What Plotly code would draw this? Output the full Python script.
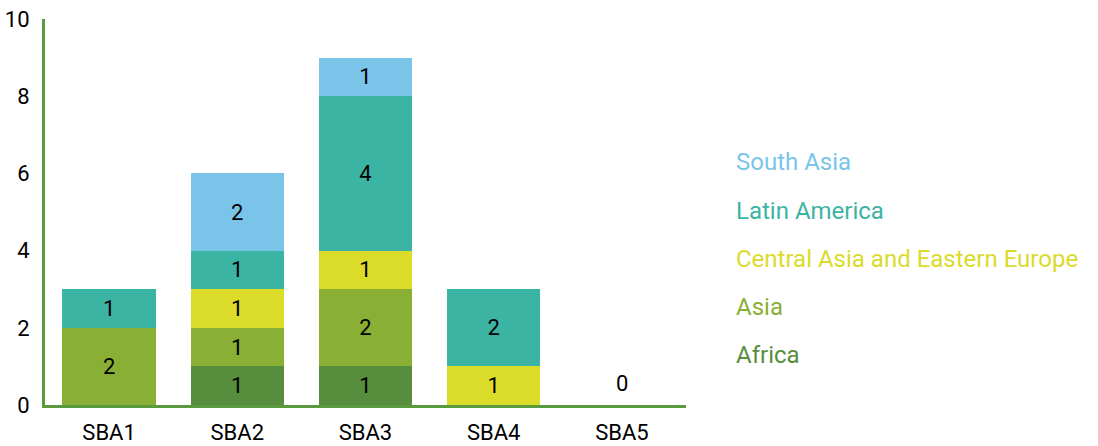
import plotly.graph_objects as go

categories = ["SBA1", "SBA2", "SBA3", "SBA4", "SBA5"]
africa = [0, 1, 1, 0, 0]
asia = [2, 1, 2, 0, 0]
central_asia_ee = [0, 1, 1, 1, 0]
latin_america = [1, 1, 4, 2, 0]
south_asia = [0, 2, 1, 0, 0]
y_ticks = [0, 2, 4, 6, 8, 10]

series = [
    ("Africa", africa, "#578E3D"),
    ("Asia", asia, "#8AAF35"),
    ("Central Asia and Eastern Europe", central_asia_ee, "#DBDB2A"),
    ("Latin America", latin_america, "#3CB4A4"),
    ("South Asia", south_asia, "#7AC4E9"),
]

FONT = "Roboto"
fig = go.Figure()
for name, vals, col in series:
    fig.add_trace(go.Bar(
        x=categories, y=vals, name=name, marker=dict(color=col, line=dict(width=0)),
        text=[str(v) if v else "" for v in vals], textposition="inside",
        insidetextanchor="middle", textangle=0,
        textfont=dict(color="black", size=22, family=FONT),
        showlegend=False, hoverinfo="skip",
    ))

# label for empty categories
totals = [sum(s[1][i] for s in series) for i in range(len(categories))]
for c, t in zip(categories, totals):
    if t == 0:
        fig.add_annotation(
            x=c, y=t, xref="x", yref="y", text=str(t), showarrow=False,
            yanchor="bottom", yshift=7,
            font=dict(color="black", size=22, family=FONT),
        )

# legend as coloured text
leg_y = [162, 211, 259, 307, 355]
for (name, vals, col), py in zip(reversed(series), leg_y):
    fig.add_annotation(
        x=(734 - 45) / 641, y=(405 - py) / 386, xref="paper", yref="paper",
        text=name, showarrow=False, xanchor="left", yanchor="middle",
        font=dict(color=col, size=24, family=FONT),
    )

fig.update_layout(
    barmode="stack", bargap=0.27,
    width=1098, height=446,
    margin=dict(l=45, r=412, t=19, b=41),
    paper_bgcolor="white", plot_bgcolor="white",
    font=dict(family=FONT, size=22, color="black"),
)
fig.update_xaxes(
    showline=True, linecolor="#5A9A3E", linewidth=3, showgrid=False,
    ticks="", ticklabelstandoff=6, tickfont=dict(size=22, family=FONT, color="black"),
    zeroline=False, automargin=False,
)
fig.update_yaxes(
    range=[0, 10], tickvals=y_ticks, showline=True, linecolor="#5A9A3E", linewidth=3,
    showgrid=False, zeroline=False, ticks="", ticklabelstandoff=8,
    tickfont=dict(size=22, family=FONT, color="black"), automargin=False,
)
fig.write_html("out.html")
